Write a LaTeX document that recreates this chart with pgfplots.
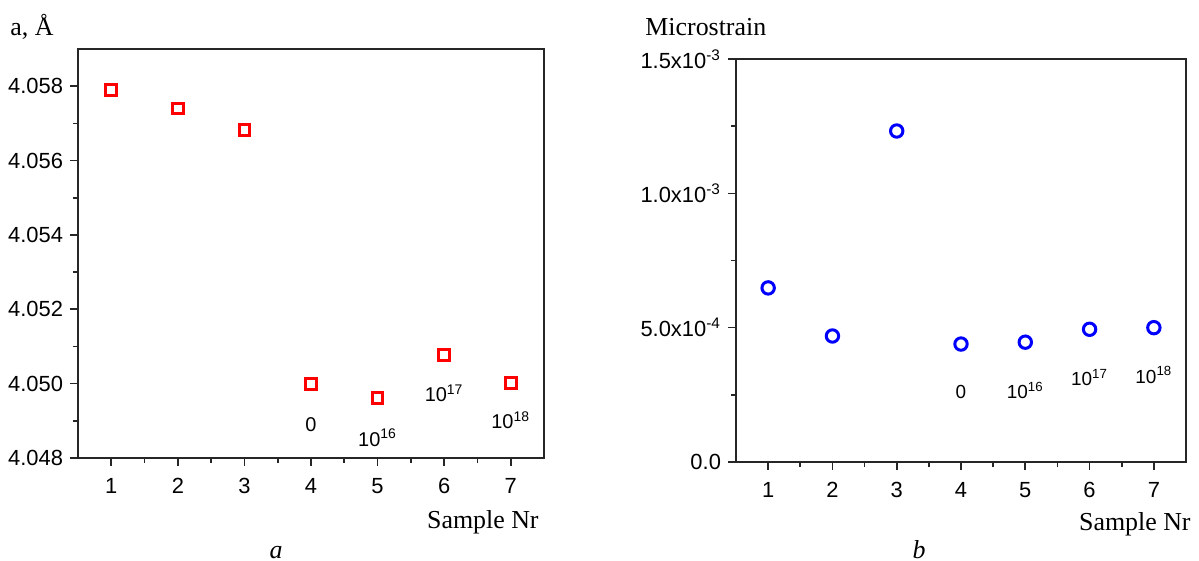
\documentclass[border=0pt]{standalone}
\usepackage{fontspec}
\setmainfont{Liberation Serif}
\setsansfont{Liberation Sans}
\usepackage{pgfplots}
\pgfplotsset{compat=1.18}

\pgfplotsset{
  panel/.style={
    scale only axis, anchor=south west,
    xmin=0.5, xmax=7.5,
    xtick={1,...,7}, xticklabels={1,2,3,4,5,6,7},
    minor xtick={1.5,2.5,...,6.5},
    tick pos=left, tick align=outside,
    major tick length=4bp, minor tick length=2.5bp,
    axis line style={line width=0.9bp, black!85},
    every tick/.style={line width=0.8bp, black!85},
    ticklabel style={font=\sffamily\fontsize{11}{13}\selectfont},
    xticklabel style={yshift=-2.5bp},
    scaled y ticks=false,
    clip=false,
  },
}

\begin{document}
\begin{tikzpicture}
\path[use as bounding box] (0,0) rectangle (599.5bp,280.5bp);

% a: lattice parameter
\begin{axis}[panel,
  at={(39bp,51.5bp)}, width=233bp, height=204.5bp,
  ymin=4.048, ymax=4.059,
  ytick={4.048,4.050,4.052,4.054,4.056,4.058},
  yticklabels={4.048,4.050,4.052,4.054,4.056,4.058},
  minor ytick={4.049,4.051,4.053,4.055,4.057},
]
\addplot[only marks, mark=square, mark size=2.7bp,
  mark options={draw=red, line width=1.5bp}]
  coordinates {(1,4.05790)(2,4.05740)(3,4.05682)(4,4.05000)(5,4.04962)(6,4.05076)(7,4.05002)};
\begin{scope}[every node/.style={anchor=base, font=\sffamily\fontsize{10}{12}\selectfont}]
\node at (axis cs:4,4.04870) {0};
\node at (axis cs:5,4.04832) {10\textsuperscript{16}};
\node at (axis cs:6,4.04951) {10\textsuperscript{17}};
\node at (axis cs:7,4.04878) {10\textsuperscript{18}};
\end{scope}
\end{axis}

% b: microstrain
\begin{axis}[panel,
  at={(368bp,49.5bp)}, width=225bp, height=201.5bp,
  ymin=0, ymax=0.0015,
  ytick={0,0.0005,0.001,0.0015},
  yticklabels={0.0,5.0x10\textsuperscript{-4},1.0x10\textsuperscript{-3},1.5x10\textsuperscript{-3}},
  minor ytick={0.00025,0.00075,0.00125},
]
\addplot[only marks, mark=o, mark size=3.1bp,
  mark options={draw=blue, line width=1.5bp}]
  coordinates {(1,6.48e-4)(2,4.69e-4)(3,1.232e-3)(4,4.39e-4)(5,4.46e-4)(6,4.94e-4)(7,5.0e-4)};
\begin{scope}[every node/.style={anchor=base, font=\sffamily\fontsize{9.5}{11}\selectfont}]
\node at (axis cs:4,2.345e-4) {0};
\node at (axis cs:5,2.345e-4) {10\textsuperscript{16}};
\node at (axis cs:6,2.83e-4) {10\textsuperscript{17}};
\node at (axis cs:7,2.94e-4) {10\textsuperscript{18}};
\end{scope}
\end{axis}

\begin{scope}[every node/.style={font=\fontsize{13}{15}\selectfont, inner sep=0pt}]
\node[anchor=base west] at (5bp,262.5bp) {a, Å};
\node[anchor=base west] at (322.5bp,262.5bp) {Microstrain};
\node[anchor=base east] at (269.5bp,16.5bp) {Sample Nr};
\node[anchor=base east] at (595.5bp,15.5bp) {Sample Nr};
\node[anchor=base] at (138bp,1.5bp) {\itshape a};
\node[anchor=base] at (459.5bp,1.5bp) {\itshape b};
\end{scope}
\end{tikzpicture}
\end{document}
